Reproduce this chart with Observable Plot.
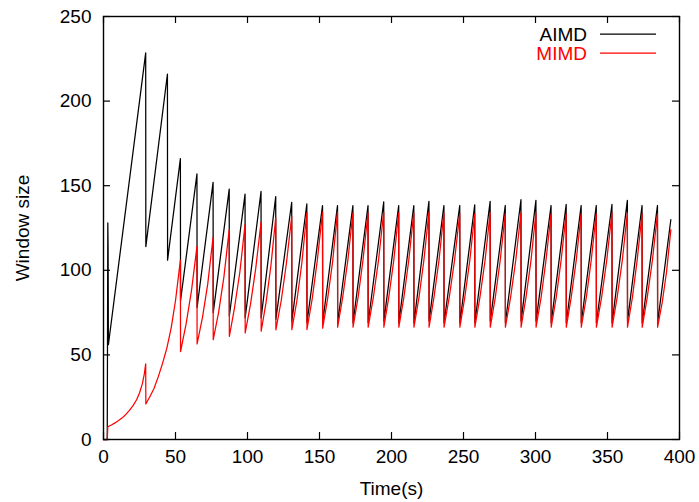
<!DOCTYPE html>
<html>
<head>
<meta charset="utf-8">
<script src="https://cdn.jsdelivr.net/npm/d3@7"></script>
<script src="https://cdn.jsdelivr.net/npm/@observablehq/plot@0.6"></script>
<style>
  html, body { margin: 0; padding: 0; background: #fff; }
  #chart { width: 699px; height: 502px; }
</style>
</head>
<body>
<div id="chart"></div>
<script>
// ---- Data ----
const xTicks = [0, 50, 100, 150, 200, 250, 300, 350, 400];
const yTicks = [0, 50, 100, 150, 200, 250];
const seriesNames = ["AIMD", "MIMD"];
const seriesColors = ["#000000", "#ff0000"];

const aimdTime = [
  0, 2.6, 3.0, 3.2, 3.4, 29.3, 29.4, 44.4, 44.5, 53.4, 53.5, 64.9, 65.0,
  76.1, 76.2, 87.3, 87.4, 98.3, 98.4, 109.4, 109.5, 119.6, 119.7, 130.7, 130.8,
  141.2, 141.3, 152.1, 152.2, 162.5, 162.6, 173.2, 173.3, 183.7, 183.8,
  194.6, 194.7, 205.0, 205.1, 215.5, 215.6, 226.0, 226.1, 236.4, 236.5,
  247.4, 247.5, 257.8, 257.9, 268.5, 268.6, 279.0, 279.1, 289.9, 290.0,
  300.3, 300.4, 310.8, 310.9, 321.3, 321.4, 331.7, 331.8, 342.2, 342.3,
  353.1, 353.2, 363.8, 363.9, 374.0, 374.1, 384.7, 384.8, 394.0
];
const aimdWindow = [
  0, 0, 128, 113, 56, 228.5, 114, 216, 106, 166, 82, 157, 78,
  152, 75, 148, 73, 145, 72, 146.6, 72, 143.6, 71, 140.2, 70,
  139.2, 69, 138.2, 69, 138.2, 69, 138.2, 69, 138.2, 69,
  140.5, 70, 138.2, 69, 138.2, 69, 140.8, 70, 138.2, 69,
  138.3, 69, 138.7, 69, 140.8, 70, 138.3, 69, 141.7, 70,
  141.3, 70, 138.3, 69, 138.9, 69, 138.3, 69, 138.3, 69,
  138.9, 69, 141.3, 70, 138.3, 69, 138.3, 69, 130
];

const mimdTime = [
  0, 2.6, 3.0, 5.5, 8, 10.5, 13, 15.5, 18, 20.5, 23, 25, 27, 28.3, 29.3,
  29.4, 32, 35, 38, 41, 44, 47, 50, 53.4,
  53.5, 57.3, 61.1, 64.9,
  65.0, 68.7, 72.4, 76.1,
  76.2, 79.9, 83.6, 87.3,
  87.4, 91.0, 94.7, 98.3,
  98.4, 102.1, 105.7, 109.4,
  109.5, 112.9, 116.3, 119.6,
  119.7, 123.4, 127.0, 130.7,
  130.8, 134.3, 137.7, 141.2,
  141.3, 144.9, 148.5, 152.1,
  152.2, 155.6, 159.1, 162.5,
  162.6, 166.1, 169.7, 173.2,
  173.3, 176.8, 180.2, 183.7,
  183.8, 187.4, 191.0, 194.6,
  194.7, 198.1, 201.6, 205.0,
  205.1, 208.6, 212.0, 215.5,
  215.6, 219.1, 222.5, 226.0,
  226.1, 229.5, 233.0, 236.4,
  236.5, 240.1, 243.8, 247.4,
  247.5, 250.9, 254.4, 257.8,
  257.9, 261.4, 265.0, 268.5,
  268.6, 272.1, 275.5, 279.0,
  279.1, 282.7, 286.3, 289.9,
  290.0, 293.4, 296.9, 300.3,
  300.4, 303.9, 307.3, 310.8,
  310.9, 314.4, 317.8, 321.3,
  321.4, 324.8, 328.3, 331.7,
  331.8, 335.3, 338.7, 342.2,
  342.3, 345.9, 349.5, 353.1,
  353.2, 356.7, 360.3, 363.8,
  363.9, 367.3, 370.6, 374.0,
  374.1, 377.6, 381.2, 384.7,
  384.8, 388.0, 391.0, 394.0
];
const mimdWindow = [
  0, 0, 7.5, 8.6, 9.8, 11.2, 12.8, 14.8, 17.2, 20, 23.5, 27.5, 33, 38.5, 44.7,
  21, 25, 30, 37, 45, 54, 66, 82, 106,
  52, 68, 88, 114,
  56.5, 72, 92, 119.6,
  59, 75, 96, 124,
  61, 78, 99, 127,
  63, 80, 101, 128.4,
  64, 81, 103, 131,
  64.8, 82, 104, 131.8,
  65, 82, 104, 134,
  65, 83, 106, 134.4,
  65.8, 83, 105, 134.4,
  66.4, 84, 106, 134,
  66.4, 84, 106, 134,
  66.4, 84, 106, 134.4,
  66.4, 84, 106, 134,
  66.4, 84, 106, 134,
  66.4, 84, 106, 134.4,
  66.4, 84, 106, 134,
  66.4, 84, 106, 133.4,
  66.4, 84, 106, 133.4,
  66.4, 84, 106, 134,
  66.4, 84, 106, 133.4,
  66.4, 84, 106, 134,
  66.4, 84, 106, 134,
  66.4, 84, 106, 133.4,
  66.4, 84, 106, 133.4,
  66.4, 84, 106, 133.4,
  66.4, 84, 106, 133.4,
  66.4, 84, 106, 134,
  66.4, 84, 106, 134,
  66.4, 84, 106, 133.4,
  66.4, 84, 106, 133.4,
  66.4, 81, 99, 124
];

// ---- Build tables ----
const aimd = aimdTime.map((t, i) => ({t, w: aimdWindow[i]}));
const mimd = mimdTime.map((t, i) => ({t, w: mimdWindow[i]}));

// ---- Layout ----
const W = 699, H = 502;
const mL = 103, mR = 20, mT = 16, mB = 63;
const innerW = W - mL - mR, innerH = H - mT - mB;
const tickLen = 7;
const font = "'Liberation Sans', Arial, Helvetica, sans-serif";

const chart = Plot.plot({
  width: W,
  height: H,
  marginLeft: mL,
  marginRight: mR,
  marginTop: mT,
  marginBottom: mB,
  style: {fontFamily: font, fontSize: "19px", color: "#000", background: "#fff"},
  x: {domain: [0, 400], label: null},
  y: {domain: [0, 250], label: null},
  marks: [
    Plot.line(aimd, {x: "t", y: "w", stroke: seriesColors[0], strokeWidth: 1.25}),
    Plot.line(mimd, {x: "t", y: "w", stroke: seriesColors[1], strokeWidth: 1.25}),
    // inward ticks, mirrored on all sides
    Plot.tickX(xTicks, {x: d => d, insetTop: innerH - tickLen, stroke: "#000", strokeWidth: 1.2}),
    Plot.tickX(xTicks, {x: d => d, insetBottom: innerH - tickLen, stroke: "#000", strokeWidth: 1.2}),
    Plot.tickY(yTicks, {y: d => d, insetRight: innerW - tickLen, stroke: "#000", strokeWidth: 1.2}),
    Plot.tickY(yTicks, {y: d => d, insetLeft: innerW - tickLen, stroke: "#000", strokeWidth: 1.2}),
    Plot.frame({stroke: "#000", strokeWidth: 1.4}),
    Plot.axisX({ticks: xTicks, tickSize: 0, tickPadding: 10, label: null, fontSize: 19}),
    Plot.axisY({ticks: yTicks, tickSize: 0, tickPadding: 12, label: null, fontSize: 19}),
    Plot.text(["Time(s)"], {frameAnchor: "bottom", dy: 49, lineAnchor: "middle", textAnchor: "middle", fontSize: 19, fill: "#000"}),
    Plot.text(["Window size"], {frameAnchor: "left", dx: -81, rotate: -90, textAnchor: "middle", lineAnchor: "middle", fontSize: 19, fill: "#000"})
  ]
});

document.getElementById("chart").appendChild(chart);

// ---- Legend (inside the plot, top right) ----
const svg = d3.select(chart);
const lg = svg.append("g").attr("font-family", font).attr("font-size", 19);
seriesNames.forEach((name, i) => {
  const cy = 34 + i * 19;
  lg.append("text")
    .attr("x", 587).attr("y", cy).attr("dy", "0.35em")
    .attr("text-anchor", "end")
    .attr("fill", seriesColors[i])
    .text(name);
  lg.append("line")
    .attr("x1", 600).attr("x2", 656)
    .attr("y1", cy).attr("y2", cy)
    .attr("stroke", seriesColors[i]).attr("stroke-width", 1.25);
});
</script>
</body>
</html>
